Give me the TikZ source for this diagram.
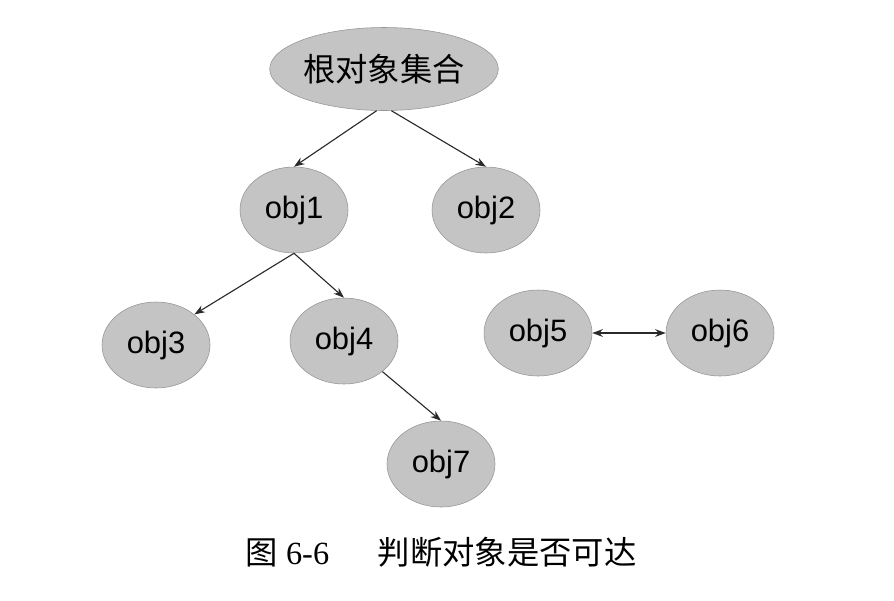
\documentclass[tikz,border=0pt]{standalone}
\usepackage{fontspec}
\setmainfont{Liberation Serif}
\newfontfamily\cjk{Noto Sans CJK SC}
\newfontfamily\objfont{Liberation Sans}
\usepackage{tikz}
\usetikzlibrary{arrows.meta,positioning,shapes.geometric}
\definecolor{ngray}{HTML}{C4C4C4}
\definecolor{nborder}{HTML}{959595}
\definecolor{lgray}{HTML}{2A2A2A}

\begin{document}
\begin{tikzpicture}[
    >={Stealth[length=7.5pt,width=5.5pt]},
    on grid,
    obj/.style={ellipse, draw=nborder, fill=ngray, minimum width=2.7cm, minimum height=2.15cm, inner sep=0pt, font=\objfont\fontsize{22}{25}\selectfont},
    rootset/.style={obj, minimum width=5.55cm, minimum height=2.075cm, font=\cjk\fontsize{23}{26}\selectfont},
    ref/.style={#1, line width=0.8pt, color=lgray},
    ref/.default={->},
]
\useasboundingbox (0,0) rectangle (22.35,-15);

% Root set
\node[rootset] (root) at (9.6,-1.725) {根对象集合};

% Objects
\node[obj, below left=3.525cm and 2.25cm of root] (obj1) {obj1};
\node[obj, below right=3.525cm and 2.55cm of root] (obj2) {obj2};
\node[obj, below left=3.375cm and 3.45cm of obj1] (obj3) {obj3};
\node[obj, below right=3.275cm and 1.25cm of obj1] (obj4) {obj4};
\node[obj, below right=2.425cm and 2.425cm of obj4, yshift=-0.65cm] (obj7) {obj7};
\node[obj, below right=3.075cm and 1.3cm of obj2] (obj5) {obj5};
\node[obj, right=4.55cm of obj5] (obj6) {obj6};

% References
\draw[ref] (root.260) -- (obj1.north);
\draw[ref] (root.280) -- (obj2.north);
\draw[ref] (obj1.south) -- (obj3.north east);
\draw[ref] (obj1.south) -- (obj4.north);
\draw[ref] (obj4.south east) -- (obj7.north);
\draw[ref=<->] (obj5.east) -- (obj6.west);

% Caption
\node[below=2.2cm of obj7, font=\fontsize{23}{26}\selectfont] (cap) {{\cjk 图}\ 6-6\hspace{1.5em}{\cjk 判断对象是否可达}};

\end{tikzpicture}
\end{document}
